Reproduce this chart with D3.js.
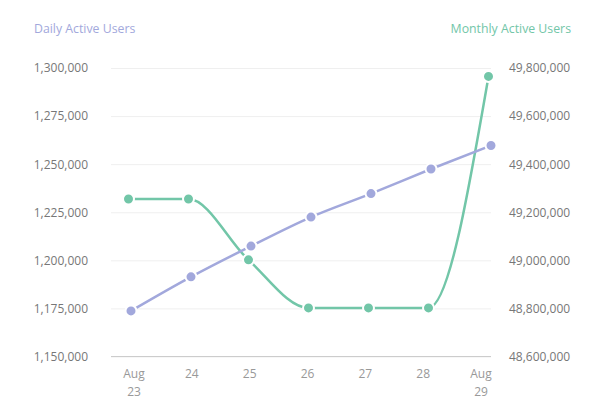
<!DOCTYPE html>
<html>
<head>
<meta charset="utf-8">
<script src="https://cdn.jsdelivr.net/npm/d3@7"></script>
<style>
  body { margin: 0; background: #fff; }
  svg text { font-family: "Open Sans", sans-serif; }
</style>
</head>
<body>
<script>
// chart size
var totalWidth = 600;
var totalHeight = 420;

// data
var days = ["Aug 23", "24", "25", "26", "27", "28", "Aug 29"];
var dailyActive = [1173700, 1191400, 1207400, 1222500, 1234700, 1247500, 1259700];
var monthlyActive = [49255000, 49255000, 49002000, 48802000, 48802000, 48802000, 49765000];
var leftTicks = [1150000, 1175000, 1200000, 1225000, 1250000, 1275000, 1300000];
var rightTicks = [48600000, 48800000, 49000000, 49200000, 49400000, 49600000, 49800000];

var dauColor = "#a2a8dc";
var mauColor = "#72c6a8";
var textColor = "#777";
var gridColor = "#efefef";
var axisColor = "#cccccc";

var plotLeft = 111, plotRight = 491, plotTop = 68, plotBottom = 356.5;

var svg = d3.select("body").append("svg")
    .attr("width", totalWidth)
    .attr("height", totalHeight);

// scales
var xScale = d3.scalePoint().domain(days).range([131, 491]);
var xLabelScale = d3.scalePoint().domain(days).range([134, 481]);
var yLeft = d3.scaleLinear().domain([1150000, 1300000]).range([plotBottom, plotTop]);
var yRight = d3.scaleLinear().domain([48600000, 49800000]).range([plotBottom, plotTop]);

//grid
svg.append("g")
    .attr("transform", "translate(" + plotLeft + ",0)")
    .call(d3.axisLeft(yLeft).tickValues(leftTicks).tickSize(-(plotRight - plotLeft)).tickFormat(""))
    .call(g => g.select(".domain").remove())
    .call(g => g.selectAll(".tick line").attr("stroke", gridColor));

// bottom axis line
svg.append("line")
    .attr("x1", plotLeft).attr("x2", plotRight)
    .attr("y1", yLeft(1150000)).attr("y2", yLeft(1150000))
    .attr("stroke", axisColor).attr("stroke-width", 1);

// left axis labels
svg.append("g")
    .attr("transform", "translate(" + plotLeft + ",0)")
    .call(d3.axisLeft(yLeft).tickValues(leftTicks).tickSize(0).tickPadding(23).tickFormat(d3.format(",")))
    .call(g => g.select(".domain").remove())
    .call(g => g.selectAll("text").attr("fill", textColor).style("font-size", "12px"));

// right axis labels
svg.append("g")
    .attr("transform", "translate(" + plotRight + ",0)")
    .call(d3.axisRight(yRight).tickValues(rightTicks).tickSize(0).tickPadding(18).tickFormat(d3.format(",")))
    .call(g => g.select(".domain").remove())
    .call(g => g.selectAll("text").attr("fill", textColor).style("font-size", "12px"));

// x labels, two lines for first and last
var xLabels = svg.append("g");
days.forEach(function (d, i) {
    var parts = d.split(" ");
    var t = xLabels.append("text")
        .attr("x", xLabelScale(d))
        .attr("y", 378)
        .attr("text-anchor", "middle")
        .attr("fill", "#999")
        .style("font-size", "12px");
    parts.forEach(function (p, j) {
        t.append("tspan").attr("x", xLabelScale(d)).attr("dy", j ? 17.5 : 0).text(p);
    });
});

// titles
svg.append("text").attr("x", 34).attr("y", 32.5)
    .attr("fill", dauColor).style("font-size", "12.3px").text("Daily Active Users");
svg.append("text").attr("x", 571).attr("y", 32.5).attr("text-anchor", "end")
    .attr("fill", mauColor).style("font-size", "12.3px").text("Monthly Active Users");

function drawSeries(values, yScale, color, dx) {
    var g = svg.append("g").attr("transform", "translate(" + dx + ",0)");
    var line = d3.line()
        .x((d, i) => xScale(days[i]))
        .y(d => yScale(d))
        .curve(d3.curveMonotoneX);
    g.append("path")
        .datum(values)
        .attr("d", line)
        .attr("fill", "none")
        .attr("stroke", color)
        .attr("stroke-width", 2.5);
    g.selectAll("circle")
        .data(values)
        .enter()
        .append("circle")
        .attr("cx", (d, i) => xScale(days[i]))
        .attr("cy", d => yScale(d))
        .attr("r", 5.5)
        .attr("fill", color)
        .attr("stroke", "#fff")
        .attr("stroke-width", 2);
}

drawSeries(monthlyActive, yRight, mauColor, -2.5);
drawSeries(dailyActive, yLeft, dauColor, 0);
</script>
</body>
</html>
